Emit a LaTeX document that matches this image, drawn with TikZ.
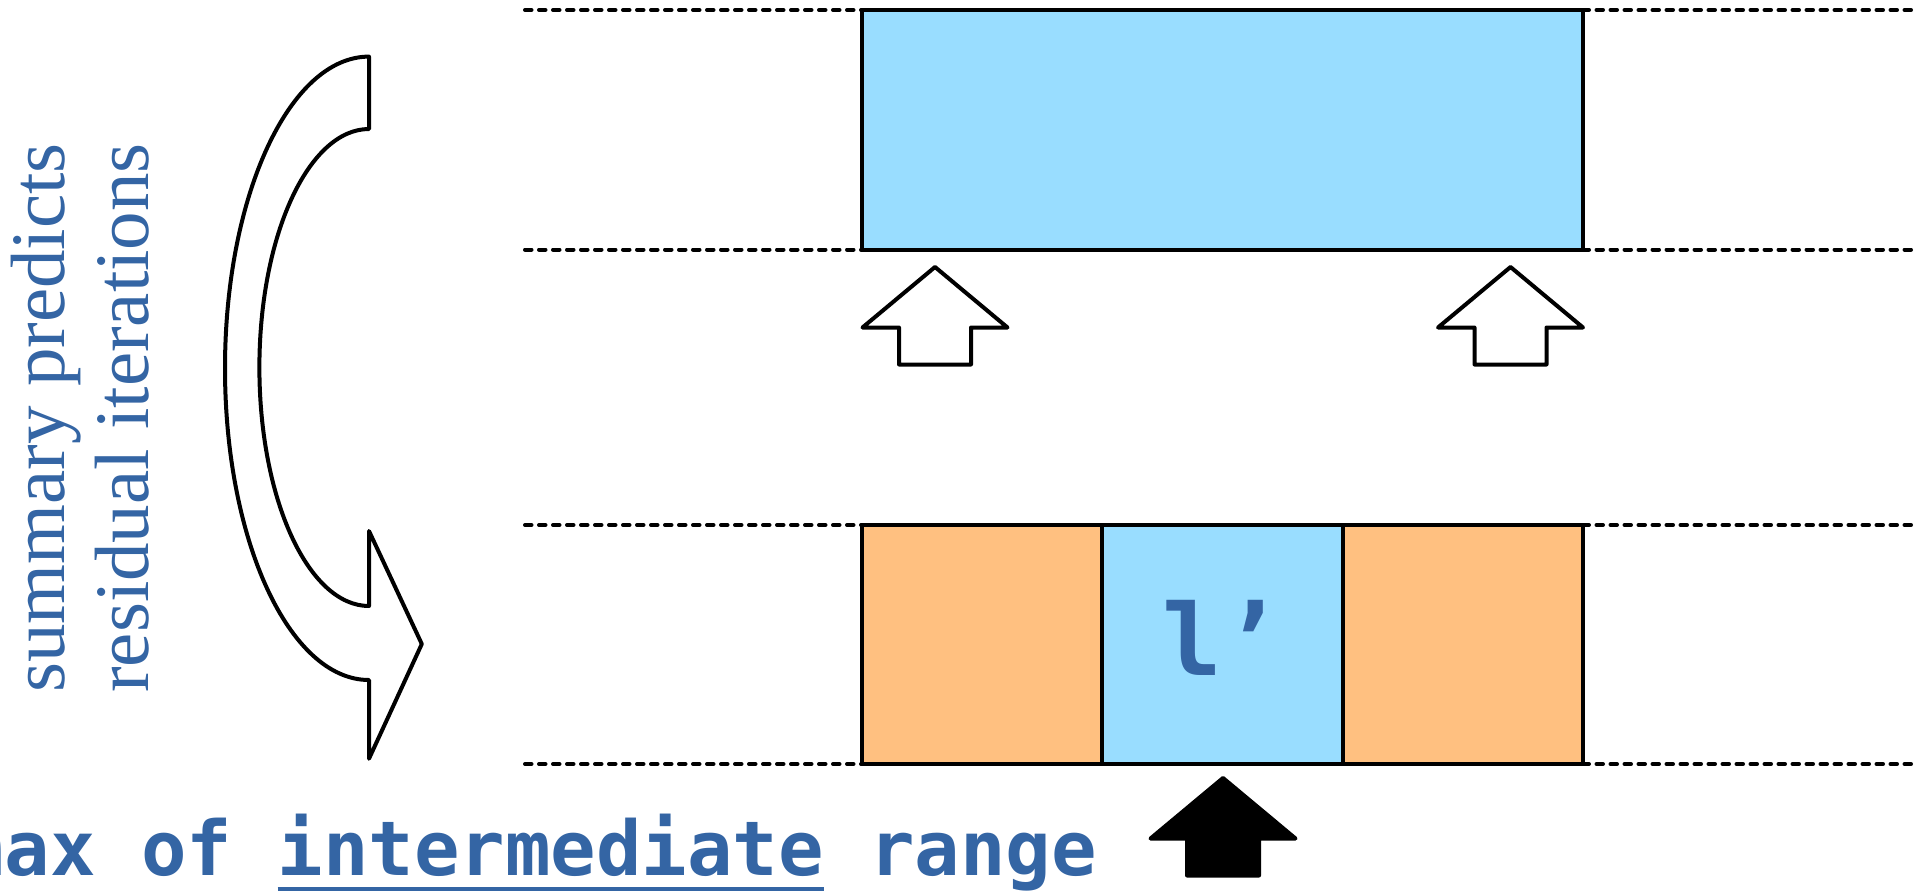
\documentclass[tikz,border=0pt]{standalone}
\usepackage{fontspec}
\setmainfont{Liberation Serif}
\newfontfamily\codefont{DejaVu Sans Mono}
\definecolor{lblue}{HTML}{99DDFF}
\definecolor{lorange}{HTML}{FFC080}
\definecolor{tblue}{HTML}{3465A4}
\newcommand\ulbar[1]{\setbox0\hbox{#1}\rlap{\rule[-16pt]{\wd0}{4pt}}\box0\relax}
\begin{document}
\begin{tikzpicture}[x=1pt,y=1pt,line width=4pt,line join=round,
  box/.style={draw=black,line width=4pt,inner sep=0pt,outer sep=0pt},
  guide/.style={line width=4pt,line cap=round,dash pattern=on 6.5pt off 7.5pt},
  blockarrow/.style={draw=black,line width=4pt,line join=round},
  lbl/.style={text=tblue,inner sep=0pt},
  pics/uparrow/.style={code={\path[pic actions] (0,0) -- (72.5,-60.5) -- (36,-60.5) -- (36,-97.5) -- (-36,-97.5) -- (-36,-60.5) -- (-72.5,-60.5) -- cycle;}}]
\useasboundingbox (0,0) rectangle (1928,-895);

% boxes
\node[box,fill=lblue,minimum width=720.5pt,minimum height=239.5pt] (top) at (1222.25,-129.75) {};
\node[box,fill=lorange,minimum width=240pt,minimum height=239pt] (bl) at (982,-644.5) {};
\node[box,fill=lblue,minimum width=241pt,minimum height=239pt] (bm) at (1222.5,-644.5) {};
\node[box,fill=lorange,minimum width=239.5pt,minimum height=239pt] (br) at (1462.75,-644.5) {};

% guide line ends
\coordinate (g1l) at (525,-10);
\coordinate (g1r) at (1912,-10);
\coordinate (g2l) at (525,-249.5);
\coordinate (g2r) at (1912,-249.5);
\coordinate (g3l) at (525,-525);
\coordinate (g3r) at (1912,-525);
\coordinate (g4l) at (525,-764);
\coordinate (g4r) at (1912,-764);
\draw[guide] (g1l) -- (top.north west);
\draw[guide] (top.north east) -- (g1r);
\draw[guide] (g2l) -- (top.south west);
\draw[guide] (top.south east) -- (g2r);
\draw[guide] (g3l) -- (bl.north west);
\draw[guide] (br.north east) -- (g3r);
\draw[guide] (g4l) -- (bl.south west);
\draw[guide] (br.south east) -- (g4r);

% label in middle box
\node[lbl,anchor=base,font=\codefont\bfseries\fontsize{99}{99}\selectfont] (lp) at (1222,-675) {l’};

% up arrows
\pic[draw,fill=white,line width=4pt] (ua1) at (935,-267) {uparrow};
\pic[draw,fill=white,line width=4pt] (ua2) at (1510.5,-267) {uparrow};
\pic[draw,fill=black,line width=4pt] (ua3) at (1223,-778) {uparrow};

% curved arrow
\draw[blockarrow,fill=white] (369,-56.6) arc[start angle=90,end angle=270,x radius=144,y radius=311.7]
  -- (369,-758.7) -- (421.8,-644) -- (369,-531) -- (369,-606)
  arc[start angle=270,end angle=90,x radius=109.6,y radius=238.5] -- cycle;

% vertical texts
\node[lbl,rotate=90,anchor=base,font=\fontsize{77}{80}\selectfont] (t1) at (64,-418) {summary predicts};
\node[lbl,rotate=90,anchor=base,font=\fontsize{77}{80}\selectfont] (t2) at (148,-418) {residual iterations};

% bottom text
\node[lbl,anchor=base west,font=\codefont\bfseries\fontsize{75.6}{80}\selectfont] (bt) at (-43,-875) {max of \ulbar{intermediate} range};
\end{tikzpicture}
\end{document}
